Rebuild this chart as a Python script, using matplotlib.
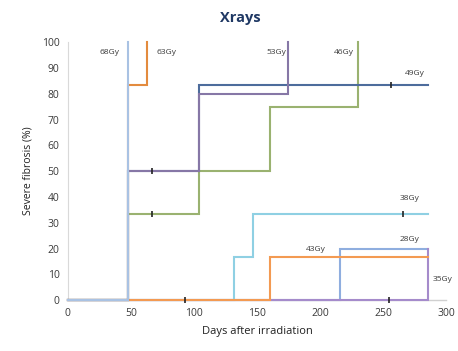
import matplotlib
matplotlib.use("Agg")
import matplotlib.pyplot as plt

plt.rcParams['font.family'] = ['Open Sans', 'DejaVu Sans']

# Kaplan-Meier style step data (days, % severe fibrosis)
doses = ["28Gy", "35Gy", "38Gy", "43Gy", "46Gy", "49Gy", "53Gy", "63Gy", "68Gy"]
times = {
    "28Gy": [0, 216, 286],
    "35Gy": [0, 286, 286],
    "43Gy": [0, 160, 286],
    "38Gy": [0, 132, 147, 286],
    "46Gy": [0, 48, 104, 160, 230, 230],
    "49Gy": [0, 48, 104, 286],
    "53Gy": [0, 48, 104, 175, 175],
    "63Gy": [0, 48, 63, 63],
    "68Gy": [0, 48, 48],
}
values = {
    "28Gy": [0, 20, 20],
    "35Gy": [0, 0, 20],
    "43Gy": [0, 16.7, 16.7],
    "38Gy": [0, 16.7, 33.3, 33.3],
    "46Gy": [0, 33.3, 50, 75, 100, 100],
    "49Gy": [0, 50, 83.3, 83.3],
    "53Gy": [0, 50, 80, 100, 100],
    "63Gy": [0, 83.3, 100, 100],
    "68Gy": [0, 100, 100],
}
censor_t = {"43Gy": [93], "35Gy": [255], "38Gy": [266], "46Gy": [67], "49Gy": [256], "53Gy": [67]}
censor_v = {"43Gy": [0], "35Gy": [0], "38Gy": [33.3], "46Gy": [33.3], "49Gy": [83.3], "53Gy": [50]}
label_pos = {
    "68Gy": (41, 96, 'right'), "63Gy": (70, 96, 'left'), "53Gy": (173, 96, 'right'),
    "46Gy": (227, 96, 'right'), "49Gy": (275, 88, 'center'), "38Gy": (271, 39.5, 'center'),
    "28Gy": (271, 23.5, 'center'), "43Gy": (197, 19.5, 'center'), "35Gy": (289, 8, 'left'),
}
colors = {
    "28Gy": "#8FAEDF", "35Gy": "#A58BCB", "43Gy": "#F39A52", "38Gy": "#8FD0E3",
    "46Gy": "#9AB270", "49Gy": "#4D6C9C", "53Gy": "#8677A6", "63Gy": "#E38B3E", "68Gy": "#A9C2E3",
}
x_ticks = [0, 50, 100, 150, 200, 250, 300]
y_ticks = [0, 10, 20, 30, 40, 50, 60, 70, 80, 90, 100]

fig = plt.figure(figsize=(4.58, 3.51), dpi=100)
ax = fig.add_axes([0.148, 0.145, 0.826, 0.735])

ax.plot([0, 300], [0, 0], color="#D0D0D0", lw=1.0, zorder=1)
for i, d in enumerate(doses):
    ax.plot(times[d], values[d], drawstyle='steps-post', color=colors[d], lw=1.5, zorder=2 + i,
            solid_joinstyle='miter')
    if d in censor_t:
        ax.plot(censor_t[d], censor_v[d], ls='none', marker='|', ms=5, mew=1.2,
                color="#222222", zorder=20)
    x, y, ha = label_pos[d]
    ax.text(x, y, d, fontsize=6, ha=ha, va='center', color="#3A3A3A")

ax.set_xlim(0, 300)
ax.set_ylim(0, 100)
ax.set_xticks(x_ticks)
ax.set_yticks(y_ticks)
ax.tick_params(length=0, labelsize=7.5, colors="#3A3A3A", pad=6)
for s in ['top', 'right', 'bottom']:
    ax.spines[s].set_visible(False)
ax.spines['left'].set_color("#D9D9D9")
ax.set_xlabel("Days after irradiation", fontsize=8, color="#202020", labelpad=5)
ax.set_ylabel("Severe fibrosis (%)", fontsize=7.5, color="#202020", labelpad=6)
for l in ax.lines:
    l.set_clip_on(False)

fig.text(240 / 458, 1 - 18 / 351, "Xrays", fontsize=10.5, fontweight='bold', color="#1F3864",
         ha='center', va='center')

fig.savefig("out.png", dpi=100)
